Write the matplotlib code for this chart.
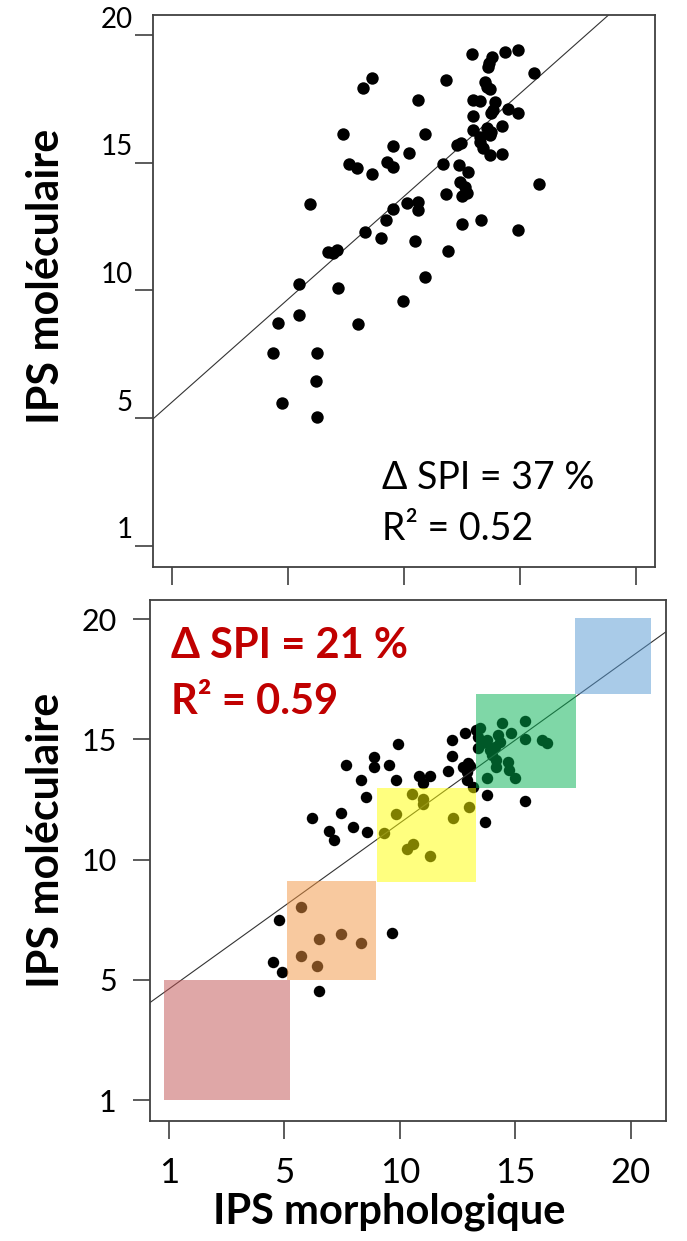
import matplotlib
matplotlib.use("Agg")
import matplotlib.pyplot as plt
from matplotlib.patches import Rectangle
from matplotlib.transforms import ScaledTranslation

plt.rcParams['font.family'] = ['Lato', 'DejaVu Sans']

# ---------------- data ----------------
tick_values = [0, 5, 10, 15, 20]
tick_labels = ["1", "5", "10", "15", "20"]

top_x = [12.93, 13.77, 13.65, 13.59, 14.34, 14.91, 15.59, 11.80, 8.59, 8.23,
         10.60, 13.48, 13.58, 13.69, 12.95, 13.26, 13.91, 12.95, 13.84, 13.72,
         14.48, 14.91, 14.20, 12.97, 13.26, 13.55, 13.69, 13.26, 13.69, 14.20,
         12.26, 12.45, 10.89, 9.53, 10.20, 7.37, 7.63, 7.97, 8.59, 9.24,
         9.50, 11.66, 12.37, 12.73, 12.40, 12.62, 12.69, 12.50, 11.80, 15.82,
         5.94, 10.10, 10.60, 10.60, 9.50, 9.21, 8.31, 9.00, 10.46, 12.50,
         13.29, 14.89, 6.72, 7.11, 6.91, 11.87, 10.89, 5.47, 7.16, 9.96,
         4.57, 5.47, 8.02, 4.35, 6.25, 6.19, 4.71, 6.25, 13.75, 13.40]
top_y = [19.27, 19.16, 18.90, 18.75, 19.36, 19.42, 18.51, 18.25, 18.32, 17.92,
         17.46, 18.18, 17.99, 17.88, 17.46, 17.44, 17.40, 16.84, 17.07, 16.94,
         17.10, 16.97, 16.45, 16.29, 16.03, 16.35, 16.09, 15.83, 15.31, 15.34,
         15.70, 15.76, 16.13, 15.66, 15.40, 16.13, 14.96, 14.81, 14.55, 15.05,
         14.85, 14.95, 14.92, 14.66, 14.26, 14.07, 13.83, 13.70, 13.78, 14.17,
         13.39, 13.42, 13.48, 13.15, 13.18, 12.76, 12.28, 12.05, 11.95, 12.59,
         12.76, 12.37, 11.52, 11.59, 11.48, 11.56, 10.54, 10.24, 10.09, 9.60,
         8.74, 9.04, 8.67, 7.56, 7.56, 6.45, 5.58, 5.03, 16.20, 15.60]
top_intercept, top_slope = 5.64, 0.806

bot_x = [9.93, 8.87, 8.87, 9.54, 7.65, 8.31, 9.83, 8.53, 7.43, 6.20,
         7.95, 8.58, 6.93, 7.14, 10.84, 11.30, 10.98, 12.09, 12.24, 12.81,
         12.24, 13.30, 13.39, 12.74, 12.89, 12.89, 13.17, 13.75, 13.68, 15.41,
         9.64, 4.76, 4.52, 4.91, 6.49,
         10.51, 11.01, 10.98, 9.83, 9.32, 10.58, 10.32, 11.30, 12.31, 12.99,
         5.70, 6.49, 7.43, 8.31, 5.70, 6.42,
         14.40, 15.41, 14.83, 13.46, 14.26, 15.41, 16.13, 16.38, 13.75, 14.11,
         14.33, 13.97, 14.18, 14.69, 14.18, 14.74, 13.75, 14.98, 13.39, 13.54,
         13.90, 12.95, 13.05]
bot_y = [14.80, 14.28, 13.83, 13.93, 13.93, 13.31, 13.31, 12.61, 11.95, 11.71,
         11.34, 11.16, 11.20, 10.81, 13.47, 13.47, 13.17, 13.69, 14.97, 15.27,
         14.30, 15.39, 14.62, 13.86, 13.65, 13.31, 13.03, 12.68, 11.55, 12.43,
         6.93, 7.48, 5.75, 5.33, 4.54,
         12.72, 12.50, 12.31, 11.88, 11.09, 10.64, 10.42, 10.15, 11.71, 12.20,
         8.01, 6.68, 6.90, 6.51, 6.00, 5.58,
         15.69, 15.77, 15.27, 15.45, 15.18, 15.00, 14.97, 14.86, 14.97, 14.69,
         14.90, 14.35, 14.14, 14.07, 13.86, 13.72, 13.38, 13.38, 15.11, 14.83,
         14.55, 14.00, 13.90]
bot_intercept, bot_slope = 4.62, 0.690

# class boxes: (x_start, x_end, y_start, y_end)
box_x0 = [-0.20, 5.12, 8.99, 13.29, 17.58]
box_x1 = [5.24, 8.96, 13.29, 17.62, 20.87]
box_y0 = [0.00, 4.99, 9.08, 12.97, 16.89]
box_y1 = [5.00, 9.11, 12.97, 16.88, 20.04]
box_colors = ['#C15151', '#F39541', '#FFFF00', '#01B151', '#5599D3']

# ---------------- figure ----------------
W, H = 687, 1241
fig = plt.figure(figsize=(W / 100, H / 100), dpi=100)

def frac(l, t, r, b):
    return [l / W, 1 - b / H, (r - l) / W, (b - t) / H]

spine_col = '#404040'

# ---- top panel ----
ax1 = fig.add_axes(frac(153.3, 15.3, 655, 566.7))
ax1.set_xlim(-0.82, 20.8)
ax1.set_ylim(-0.82, 20.78)
ax1.scatter(top_x, top_y, s=80, color='black', zorder=3, linewidths=0)
ax1.axline((0, top_intercept), slope=top_slope, color='#333333', lw=0.8, zorder=2)
ax1.set_xticks(tick_values)
ax1.set_xticklabels([])
ax1.set_yticks(tick_values)
ax1.set_yticklabels(tick_labels, fontsize=20)
ax1.tick_params(axis='both', length=13, width=1.2, color=spine_col, pad=2)
off = ScaledTranslation(0, 18 / 100, fig.dpi_scale_trans)
for lab in ax1.get_yticklabels():
    lab.set_transform(lab.get_transform() + off)
for sp in ax1.spines.values():
    sp.set_color(spine_col)
    sp.set_linewidth(1.3)
ax1.text(0.456, 0.141, "Δ SPI = 37 %", transform=ax1.transAxes,
         fontsize=27, ha='left', va='baseline', color='black')
ax1.text(0.456, 0.048, "R² = 0.52", transform=ax1.transAxes,
         fontsize=27, ha='left', va='baseline', color='black')

# ---- bottom panel ----
ax2 = fig.add_axes(frac(150, 600, 666, 1121))
ax2.set_xlim(-0.82, 21.52)
ax2.set_ylim(-0.87, 20.79)
ax2.scatter(bot_x, bot_y, s=68, color='black', zorder=2, linewidths=0)
ax2.axline((0, bot_intercept), slope=bot_slope, color='#333333', lw=0.8, zorder=2)
for x0, x1, y0, y1, c in zip(box_x0, box_x1, box_y0, box_y1, box_colors):
    ax2.add_patch(Rectangle((x0, y0), x1 - x0, y1 - y0, facecolor=c,
                            edgecolor='none', alpha=0.5, zorder=4))
ax2.set_xticks(tick_values)
ax2.set_xticklabels(tick_labels, fontsize=25)
ax2.set_yticks(tick_values)
ax2.set_yticklabels(tick_labels, fontsize=22)
ax2.tick_params(axis='x', length=13, width=1.2, color=spine_col, pad=13)
ax2.tick_params(axis='y', length=12, width=1.2, color=spine_col, pad=12)
for sp in ax2.spines.values():
    sp.set_color(spine_col)
    sp.set_linewidth(1.3)
ax2.text(0.041, 0.889, "Δ SPI = 21 %", transform=ax2.transAxes,
         fontsize=30, fontweight='bold', ha='left', va='baseline', color='#C00000')
ax2.text(0.041, 0.781, "R² = 0.59", transform=ax2.transAxes,
         fontsize=30, fontweight='bold', ha='left', va='baseline', color='#C00000')

# ---- axis titles ----
fig.text(46 / W, 1 - 276 / H, "IPS moléculaire", rotation=90, fontsize=31,
         fontweight='bold', ha='center', va='center')
fig.text(46 / W, 1 - 840 / H, "IPS moléculaire", rotation=90, fontsize=31,
         fontweight='bold', ha='center', va='center')
fig.text(389 / W, 1 - 1212 / H, "IPS morphologique", fontsize=30,
         fontweight='bold', ha='center', va='center')

fig.savefig("out.png", dpi=100)
